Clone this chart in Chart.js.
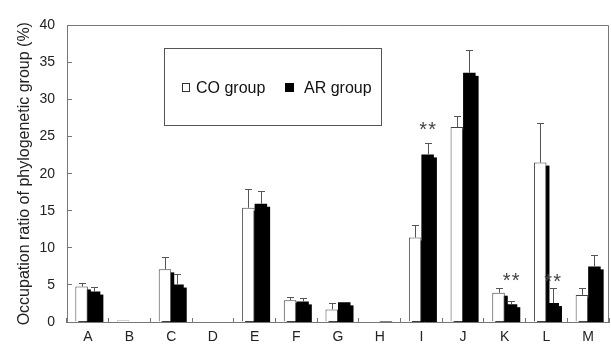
<!DOCTYPE html>
<html>
<head>
<meta charset="utf-8">
<script src="https://cdn.jsdelivr.net/npm/chart.js@4/dist/chart.umd.min.js"></script>
<style>
  html, body { margin: 0; padding: 0; background: #fff; }
  #wrap { width: 611px; height: 349px; }
</style>
</head>
<body>
<div id="wrap"><canvas id="c" width="611" height="349"></canvas></div>
<script>
// ---- data ----
const categories = ['A','B','C','D','E','F','G','H','I','J','K','L','M'];
const coValues   = [4.8, 0.2, 7.1, 0, 15.4, 2.95, 1.7, 0, 11.4, 26.3, 3.95, 21.5, 3.65];
const coErrors   = [0.5, 0, 1.6, 0, 2.5, 0.48, 0.85, 0, 1.65, 1.5, 0.57, 5.3, 0.87];
const arValues   = [4.1, 0, 5.05, 0, 15.95, 2.78, 2.65, 0.15, 22.6, 33.6, 2.4, 2.55, 7.5];
const arErrors   = [0.6, 0, 1.4, 0, 1.65, 0.43, 0, 0, 1.6, 3.1, 0.45, 2.1, 1.55];
const seriesNames = ['CO group', 'AR group'];
const yTicks = [0, 5, 10, 15, 20, 25, 30, 35, 40];
const yTitle = 'Occupation ratio of phylogenetic group (%)';
// significance marks: category, label, y position (data units)
const sigCategories = ['I', 'K', 'L'];
const sigLabels     = ['**', '**', '**'];
const sigLevels     = [26.6, 6.25, 6.1];

const FONT = "'Liberation Sans', Arial, sans-serif";
const AXIS_GRAY = '#777';

const errorsBySet = [coErrors, arErrors];

const shadowPlugin = {
  id: 'barShadow',
  beforeDatasetsDraw(chart) {
    const ctx = chart.ctx, a = chart.chartArea;
    ctx.save();
    ctx.beginPath();
    ctx.rect(a.left, a.top, a.right - a.left, a.bottom - a.top);
    ctx.clip();
    ctx.fillStyle = '#000';
    chart.data.datasets.forEach((ds, di) => {
      const meta = chart.getDatasetMeta(di);
      meta.data.forEach((el) => {
        const p = el.getProps(['x', 'y', 'base', 'width'], true);
        if (Math.abs(p.base - p.y) < 0.5) return;
        const dx = 3, dy = 3;
        ctx.fillRect(p.x - p.width / 2 + dx, p.y + dy, p.width, p.base - p.y);
      });
    });
    ctx.restore();
  }
};

const errorPlugin = {
  id: 'errorBars',
  afterDatasetsDraw(chart) {
    const ctx = chart.ctx;
    const yScale = chart.scales.y;
    ctx.save();
    ctx.strokeStyle = '#555';
    ctx.lineWidth = 1;
    chart.data.datasets.forEach((ds, di) => {
      const meta = chart.getDatasetMeta(di);
      const errs = errorsBySet[di];
      meta.data.forEach((el, i) => {
        const e = errs[i];
        if (!e) return;
        const p = el.getProps(['x', 'y'], true);
        const top = yScale.getPixelForValue(ds.data[i] + e);
        const x = Math.round(p.x) + 0.5;
        ctx.beginPath();
        ctx.moveTo(x, p.y);
        ctx.lineTo(x, Math.round(top) + 0.5);
        ctx.moveTo(x - 3.5, Math.round(top) + 0.5);
        ctx.lineTo(x + 3.5, Math.round(top) + 0.5);
        ctx.stroke();
      });
    });
    ctx.restore();
  }
};

const framePlugin = {
  id: 'frameAndLegend',
  afterDraw(chart) {
    const ctx = chart.ctx, a = chart.chartArea;
    const yScale = chart.scales.y;
    ctx.save();
    // top and right frame
    ctx.strokeStyle = AXIS_GRAY;
    ctx.lineWidth = 1;
    ctx.beginPath();
    ctx.moveTo(Math.round(a.left), Math.round(a.top) + 0.5);
    ctx.lineTo(Math.round(a.right) - 0.5, Math.round(a.top) + 0.5);
    ctx.lineTo(Math.round(a.right) - 0.5, Math.round(a.bottom));
    ctx.stroke();

    // significance marks above AR bars
    const arMeta = chart.getDatasetMeta(1);
    ctx.fillStyle = '#444';
    ctx.font = '20px ' + FONT;
    ctx.textAlign = 'center';
    ctx.textBaseline = 'alphabetic';
    sigCategories.forEach((c, k) => {
      const i = categories.indexOf(c);
      const el = arMeta.data[i];
      const x = el.getProps(['x'], true).x;
      const yc = yScale.getPixelForValue(sigLevels[k]);
      const chars = sigLabels[k].split('');
      const step = 9;
      chars.forEach((ch, j) => {
        ctx.fillText(ch, x + (j - (chars.length - 1) / 2) * step, yc + 11);
      });
    });

    // legend box
    const bx = 164.5, by = 48.5, bw = 217, bh = 77;
    ctx.strokeStyle = '#555';
    ctx.lineWidth = 1;
    ctx.strokeRect(bx, by, bw, bh);
    ctx.font = '16px ' + FONT;
    ctx.textAlign = 'left';
    ctx.textBaseline = 'alphabetic';
    // CO
    ctx.fillStyle = '#fff';
    ctx.fillRect(182, 83, 8, 9);
    ctx.strokeStyle = '#333';
    ctx.strokeRect(182.5, 83.5, 7, 8);
    ctx.fillStyle = '#111';
    ctx.fillText(chart.data.datasets[0].label, 196, 93);
    // AR
    ctx.fillStyle = '#000';
    ctx.fillRect(285, 83, 9, 9);
    ctx.fillStyle = '#111';
    ctx.fillText(chart.data.datasets[1].label, 304, 93);
    ctx.restore();
  }
};

new Chart(document.getElementById('c'), {
  type: 'bar',
  data: {
    labels: categories,
    datasets: [
      { label: seriesNames[0], data: coValues, backgroundColor: '#fff', borderColor: '#444', borderWidth: 1, clip: 0 },
      { label: seriesNames[1], data: arValues, backgroundColor: '#000', borderWidth: 0, clip: 0 }
    ]
  },
  options: {
    responsive: false,
    animation: false,
    devicePixelRatio: 1,
    layout: { padding: { top: 15, right: 2, left: 0, bottom: 0 } },
    datasets: { bar: { categoryPercentage: 0.6, barPercentage: 1.0 } },
    plugins: { legend: { display: false }, tooltip: { enabled: false } },
    scales: {
      x: {
        grid: { offset: true, drawOnChartArea: false, tickLength: -4, color: AXIS_GRAY },
        border: { color: AXIS_GRAY },
        ticks: { font: { family: FONT, size: 14 }, color: '#222', padding: 11, maxRotation: 0 },
        afterFit(s) { s.height = 27; }
      },
      y: {
        min: 0, max: 40,
        afterBuildTicks(s) { s.ticks = yTicks.map(v => ({ value: v })); },
        grid: { drawOnChartArea: false, tickLength: -5, color: AXIS_GRAY },
        border: { color: AXIS_GRAY },
        ticks: { font: { family: FONT, size: 14 }, color: '#222', padding: 17 },
        title: { display: true, text: yTitle, font: { family: FONT, size: 16 }, color: '#222', padding: { top: 15, bottom: 0 } },
        afterFit(s) { s.width = 67; }
      }
    }
  },
  plugins: [shadowPlugin, errorPlugin, framePlugin]
});
</script>
</body>
</html>
